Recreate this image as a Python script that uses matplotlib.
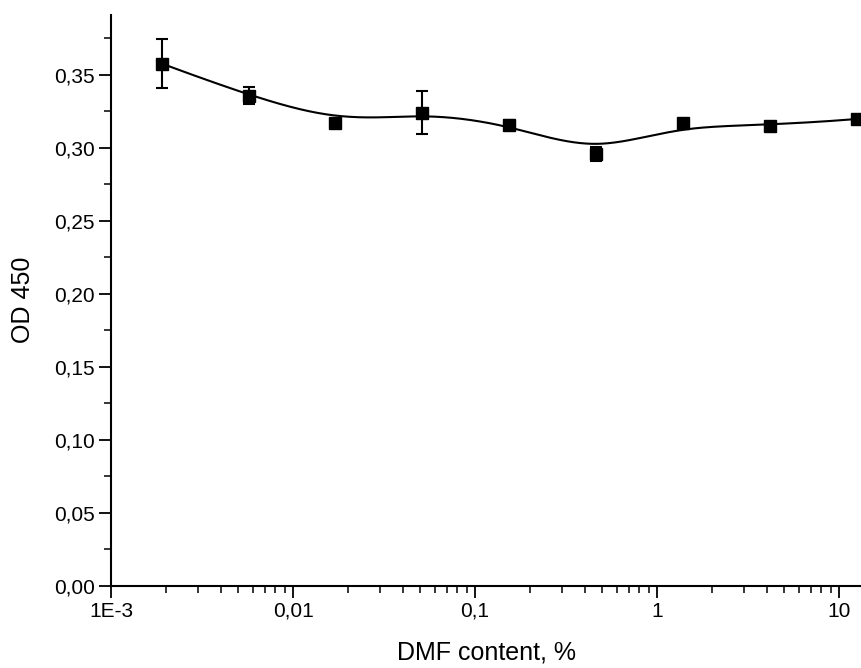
import numpy as np
import matplotlib
matplotlib.use('Agg')
import matplotlib.pyplot as plt
from matplotlib.ticker import FixedLocator, MultipleLocator, LogLocator, NullFormatter, FuncFormatter

plt.rcParams['font.family'] = ['Liberation Sans', 'DejaVu Sans']

# DMF dilution series (%), mean OD450 and error
dmf = [0.0019, 0.0057, 0.0171, 0.0514, 0.154, 0.463, 1.39, 4.17, 12.5]
od = [0.3575, 0.3356, 0.3166, 0.3240, 0.3158, 0.2957, 0.3169, 0.3148, 0.3196]
err = [0.0170, 0.0060, 0.0030, 0.0150, 0.0030, 0.0050, 0.0030, 0.0030, 0.0030]

xticks = [1e-3, 0.01, 0.1, 1, 10]
xticklabels = ['1E-3', '0,01', '0,1', '1', '10']


def bspline(px, py, k=3, num=400):
    # clamped B-spline with the data points as control points (like Origin's B-spline line)
    n = len(px)
    knots = np.concatenate([np.zeros(k), np.arange(n - k + 1), np.full(k, n - k)]).astype(float)
    t = np.linspace(0, n - k, num)
    t[-1] -= 1e-9

    def basis(i, p, tt):
        if p == 0:
            return ((knots[i] <= tt) & (tt < knots[i + 1])).astype(float)
        a = np.zeros_like(tt)
        b = np.zeros_like(tt)
        if knots[i + p] != knots[i]:
            a = (tt - knots[i]) / (knots[i + p] - knots[i]) * basis(i, p - 1, tt)
        if knots[i + p + 1] != knots[i + 1]:
            b = (knots[i + p + 1] - tt) / (knots[i + p + 1] - knots[i + 1]) * basis(i + 1, p - 1, tt)
        return a + b

    B = np.array([basis(i, k, t) for i in range(n)])
    return B.T @ np.asarray(px), B.T @ np.asarray(py)


fig = plt.figure(figsize=(8.61, 6.68), dpi=100)
ax = fig.add_axes([0.129, 0.123, 0.871, 0.855])

lx, ly = bspline(np.log10(dmf), od)
ax.plot(10 ** lx, ly, color='black', lw=1.5, zorder=2)
ax.errorbar(dmf, od, yerr=err, fmt='s', color='black', ms=8.5, elinewidth=1.5,
            capsize=4.5, capthick=1.5, zorder=3, clip_on=False)

ax.set_xscale('log')
ax.set_xlim(1e-3, 13.2)
ax.set_ylim(0, 0.391)

ax.xaxis.set_major_locator(FixedLocator(xticks))
ax.set_xticklabels(xticklabels)
ax.xaxis.set_minor_locator(LogLocator(base=10, subs=np.arange(2, 10)))
ax.xaxis.set_minor_formatter(NullFormatter())
ax.yaxis.set_major_locator(MultipleLocator(0.05))
ax.yaxis.set_minor_locator(MultipleLocator(0.025))
ax.yaxis.set_major_formatter(FuncFormatter(lambda v, p: ('%.2f' % v).replace('.', ',')))

for s in ['top', 'right']:
    ax.spines[s].set_visible(False)
for s in ['bottom', 'left']:
    ax.spines[s].set_linewidth(1.5)

ax.tick_params(which='major', length=8.5, width=1.3, labelsize=15, direction='out', pad=3)
ax.tick_params(which='minor', length=5, width=1.1, direction='out')

ax.set_xlabel('DMF content, %', fontsize=18, labelpad=14)
ax.set_ylabel('OD 450', fontsize=18, labelpad=14)

plt.savefig('out.png', dpi=100)
